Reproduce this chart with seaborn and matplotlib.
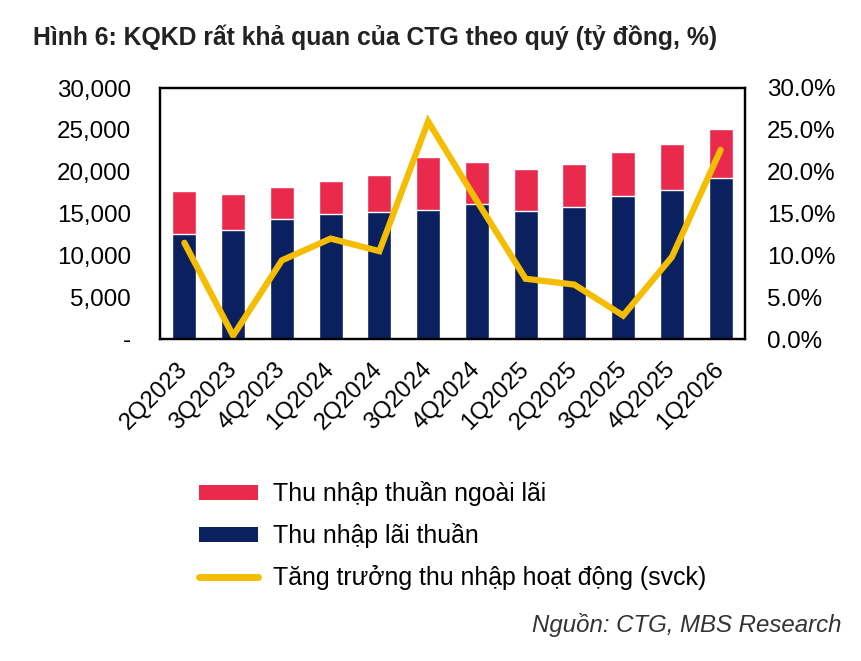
import numpy as np
import pandas as pd
import matplotlib
matplotlib.use("Agg")
import matplotlib.pyplot as plt
import matplotlib.transforms as mtransforms
from matplotlib.patches import Patch
from matplotlib.lines import Line2D
import seaborn as sns

# data (ty dong, %)
quarters = ["2Q2023", "3Q2023", "4Q2023", "1Q2024", "2Q2024", "3Q2024",
            "4Q2024", "1Q2025", "2Q2025", "3Q2025", "4Q2025", "1Q2026"]
net_interest = [12600, 13000, 14300, 15000, 15200, 15400,
                16100, 15300, 15800, 17100, 17800, 19300]
non_interest = [5100, 4300, 3900, 3900, 4400, 6400,
                5100, 5000, 5100, 5300, 5500, 5800]
growth_pct = [11.5, 0.4, 9.4, 12.0, 10.5, 26.0,
              16.5, 7.2, 6.5, 2.8, 9.8, 22.6]

left_ticks = [0, 5000, 10000, 15000, 20000, 25000, 30000]
left_labels = ["-", "5,000", "10,000", "15,000", "20,000", "25,000", "30,000"]
right_ticks = [0, 5, 10, 15, 20, 25, 30]
right_labels = ["0.0%", "5.0%", "10.0%", "15.0%", "20.0%", "25.0%", "30.0%"]

RED = "#EA2A4D"
NAVY = "#0B215F"
YELLOW = "#F5BD02"

df = pd.DataFrame({"quarter": quarters, "nii": net_interest,
                   "non_ii": non_interest, "growth": growth_pct})
df["total"] = df["nii"] + df["non_ii"]
df["pos"] = np.arange(len(df))

sns.set_theme(style="white")
plt.rcParams["font.family"] = ["Liberation Sans", "DejaVu Sans"]
plt.rcParams["text.color"] = "black"
plt.rcParams["xtick.color"] = "black"
plt.rcParams["ytick.color"] = "black"

fig = plt.figure(figsize=(8.62, 6.61), dpi=100)
ax = fig.add_axes([160 / 862, 1 - 339 / 661, 585 / 862, 251 / 661])

# stacked look: total in red, net interest in navy drawn over it
sns.barplot(data=df, x="quarter", y="total", color=RED, width=0.49,
            saturation=1, ax=ax)
sns.barplot(data=df, x="quarter", y="nii", color=NAVY, width=0.49,
            saturation=1, ax=ax)
ax.set_xlim(-0.5, len(df) - 0.5)
ax.set_ylim(0, 30000)
ax.set_yticks(left_ticks)
ax.set_yticklabels(left_labels, fontsize=17.4)
ax.set_xlabel("")
ax.set_ylabel("")
ax.tick_params(axis="y", length=0, pad=21)
ax.tick_params(axis="x", length=0, pad=0)
for s in ax.spines.values():
    s.set_color("black")
    s.set_linewidth(1.6)

offset = mtransforms.ScaledTranslation(0, -27 / 100, fig.dpi_scale_trans)
for lab in ax.get_xticklabels():
    lab.set_rotation(45)
    lab.set_ha("right")
    lab.set_va("center")
    lab.set_rotation_mode("anchor")
    lab.set_fontsize(17.2)
    lab.set_transform(lab.get_transform() + offset)

ax2 = ax.twinx()
sns.lineplot(data=df, x="pos", y="growth", color=YELLOW, linewidth=4.5,
             ax=ax2, solid_joinstyle="miter")
ax2.set_ylim(0, 30)
ax2.set_yticks(right_ticks)
ax2.set_yticklabels(right_labels, fontsize=17.4)
ax2.set_ylabel("")
ax2.set_xlabel("")
ax2.tick_params(axis="y", length=0, pad=16)
for s in ax2.spines.values():
    s.set_color("black")
    s.set_linewidth(1.6)
ax2.grid(False)
ax.grid(False)

fig.text(33 / 862, 1 - 37 / 661, "Hình 6: KQKD rất khả quan của CTG theo quý (tỷ đồng, %)",
         fontsize=17.8, fontweight="bold", color="#222222", va="center", ha="left")

handles = [Patch(facecolor=RED, edgecolor="none"),
           Patch(facecolor=NAVY, edgecolor="none"),
           Line2D([0], [0], color=YELLOW, linewidth=5, solid_capstyle="round")]
labels = ["Thu nhập thuần ngoài lãi", "Thu nhập lãi thuần",
          "Tăng trưởng thu nhập hoạt động (svck)"]
fig.legend(handles, labels, loc="upper left", bbox_to_anchor=(177 / 862, 1 - 459 / 661),
           frameon=False, fontsize=17.9, handlelength=2.37, handleheight=0.52,
           handletextpad=0.58, labelspacing=0.68)

fig.text(842 / 862, 1 - 625 / 661, "Nguồn: CTG, MBS Research", fontsize=17.3,
         style="italic", color="#333333", ha="right", va="center")

fig.savefig("out.png", dpi=100)
